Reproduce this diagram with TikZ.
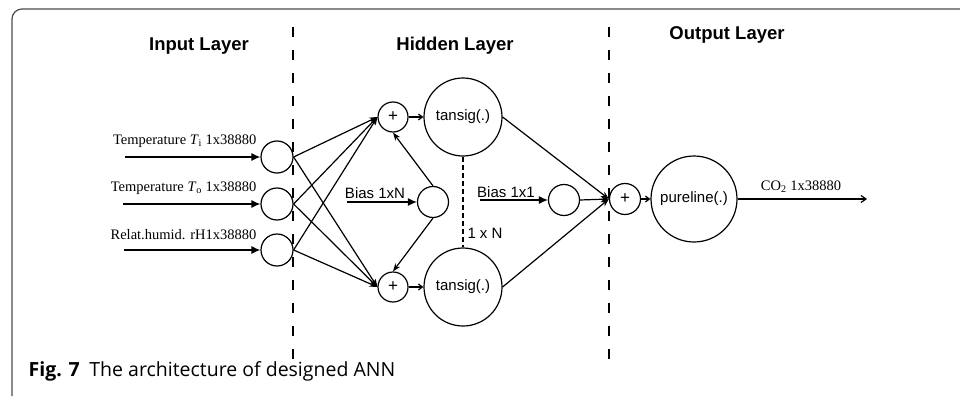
\documentclass[tikz,border=0pt]{standalone}
\usepackage{fontspec}
\setmainfont{Liberation Serif}
\newfontfamily\arial{Liberation Sans}
\newfontfamily\capfont{Open Sans}
\usetikzlibrary{arrows.meta}
\begin{document}
\begin{tikzpicture}[x=1pt,y=-1pt,line width=1.2pt,
  neuron/.style={circle,draw,line width=1.2pt,inner sep=0pt,minimum size=#1,font=\arial\fontsize{15}{17}\selectfont},
  plusn/.style={neuron=#1,font=\arial\fontsize{17}{19}\selectfont},
  title/.style={font=\arial\bfseries\fontsize{18.5}{20}\selectfont},
  inlabel/.style={font=\fontsize{14.5}{16}\selectfont,anchor=east,inner sep=0pt},
  sflabel/.style={font=\arial\fontsize{15}{17}\selectfont,inner sep=0pt},
  inarrow/.style={-{Latex[length=9pt,width=8pt]}},
  conn/.style={-{Stealth[length=8pt,width=6pt]}},
  short/.style={-{Straight Barb[length=4pt,width=6pt]}},
  sep/.style={line width=1.2pt,dash pattern=on 10pt off 13pt},
  frame/.style={draw=black!70,line width=1.2pt,rounded corners=10pt}
]
\useasboundingbox (0,0) rectangle (960,396);
% frame
\draw[frame] (12,396) -- (12,9) -- (960,9);
% separators
\draw[sep] (293,27) -- (293,362);
\draw[sep] (609,27) -- (609,362);
% titles
\node[title] at (199,46) {Input Layer};
\node[title] at (455,46) {Hidden Layer};
\node[title] at (727,35) {Output Layer};
% input neurons
\node[neuron=32pt] (i1) at (277,157) {};
\node[neuron=32pt] (i2) at (277,204) {};
\node[neuron=32pt] (i3) at (277,250) {};
\coordinate (s1) at (125,157);
\coordinate (s2) at (123,204);
\coordinate (s3) at (124,250);
\draw[inarrow] (s1) -- (i1.west);
\draw[inarrow] (s2) -- (i2.west);
\draw[inarrow] (s3) -- (i3.west);
\node[inlabel] (l1) at (257,141) {Temperature \textit{T}\textsubscript{i} 1x38880};
\node[inlabel] (l2) at (257,188) {Temperature \textit{T}\textsubscript{o} 1x38880};
\node[inlabel] (l3) at (257,235) {Relat.humid. rH1x38880};
% hidden
\node[plusn=30pt] (p1) at (393,117) {+};
\node[plusn=30pt] (p2) at (393,287) {+};
\node[neuron=78pt] (t1) at (463,117) {tansig(.)};
\node[neuron=78pt] (t2) at (463,287) {tansig(.)};
\node[neuron=31pt] (b1) at (433,202) {};
\coordinate (bs1) at (347,202);
\draw[inarrow] (bs1) -- (b1.west);
\node[sflabel] (bl1) at (375,193) {Bias 1xN};
\foreach \i in {i1,i2,i3} {
  \draw[conn] (\i.east) -- (p1.west);
  \draw[conn] (\i.east) -- (p2.west);
}
\draw[conn] (b1.north) -- (p1.south);
\draw[conn] (b1.south) -- (p2.north);
\draw[short] (p1.east) -- (t1.west);
\draw[short] (p2.east) -- (t2.west);
\draw[line width=1.2pt,dash pattern=on 5pt off 3pt] (t1.south) -- (t2.north);
\node[sflabel] (nl) at (485,233) {1 x N};
% output
\node[neuron=31pt] (b2) at (564,200) {};
\coordinate (bs2) at (480,200);
\draw[inarrow] (bs2) -- (b2.west);
\node[sflabel] (bl2) at (506,192) {Bias 1x1};
\node[plusn=31pt] (op) at (625,199) {+};
\node[neuron=86pt] (pl) at (694,199) {pureline(.)};
\draw[conn] (t1.east) -- (op.west);
\draw[conn] (t2.east) -- (op.west);
\draw[conn] (b2.east) -- (op.west);
\draw[short] (op.east) -- (pl.west);
\coordinate (out) at (867,199);
\draw[-{Straight Barb[length=5pt,width=7pt]}] (pl.east) -- (out);
\node[font=\fontsize{14.5}{16}\selectfont,inner sep=0pt] (col) at (801,187) {CO\textsubscript{2} 1x38880};
% caption
\node[anchor=west,inner sep=0pt,font=\capfont\fontsize{19.5}{21}\selectfont] (cap) at (28,371) {\textbf{Fig. 7}\hspace{0.5em}The architecture of designed ANN};
\end{tikzpicture}
\end{document}
